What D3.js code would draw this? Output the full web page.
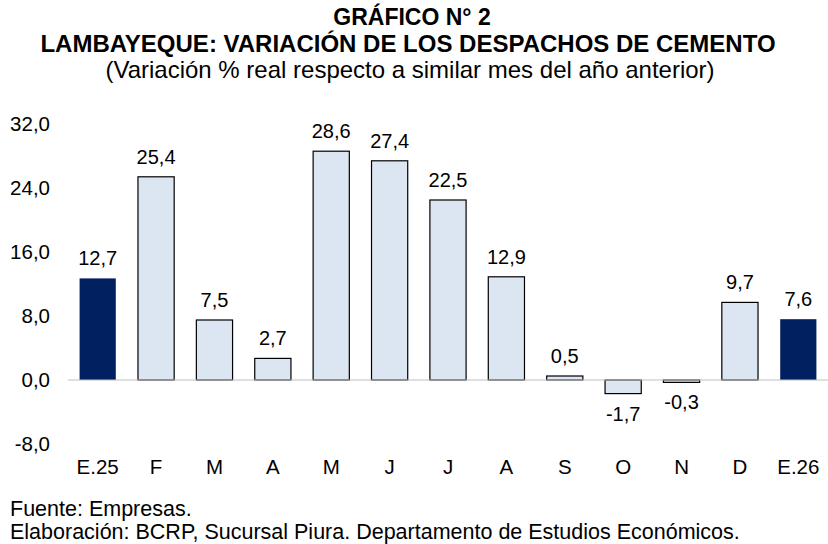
<!DOCTYPE html>
<html>
<head>
<meta charset="utf-8">
<script src="https://cdn.jsdelivr.net/npm/d3@7"></script>
<style>
  body { margin: 0; background: #fff; }
  svg { font-family: "Liberation Sans", Arial, sans-serif; }
</style>
</head>
<body>
<div id="chartEl"></div>
<script>
const categories = ['E.25', 'F', 'M', 'A', 'M', 'J', 'J', 'A', 'S', 'O', 'N', 'D', 'E.26'];
const values = [12.7, 25.4, 7.5, 2.7, 28.6, 27.4, 22.5, 12.9, 0.5, -1.7, -0.3, 9.7, 7.6];
const highlighted = [true, false, false, false, false, false, false, false, false, false, false, false, true];
const yTicks = [-8, 0, 8, 16, 24, 32];

const width = 828;
const height = 544;
const fmt = v => v.toFixed(1).replace('.', ',');

const svg = d3.select('#chartEl').append('svg')
  .attr('width', width)
  .attr('height', height);

// titles
svg.append('text')
  .attr('x', 412).attr('y', 25)
  .attr('text-anchor', 'middle')
  .style('font-size', '23px').style('font-weight', 'bold')
  .text('GRÁFICO N° 2');
svg.append('text')
  .attr('x', 408).attr('y', 52)
  .attr('text-anchor', 'middle')
  .style('font-size', '24px').style('font-weight', 'bold')
  .text('LAMBAYEQUE: VARIACIÓN DE LOS DESPACHOS DE CEMENTO');
svg.append('text')
  .attr('x', 410).attr('y', 78)
  .attr('text-anchor', 'middle')
  .style('font-size', '24px')
  .text('(Variación % real respecto a similar mes del año anterior)');

const x = d3.scaleBand()
  .domain(d3.range(categories.length))
  .range([68.5, 827.5])
  .paddingInner(0.38)
  .paddingOuter(0.19);

const y = d3.scaleLinear()
  .domain([-8, 32])
  .range([444, 124]);

// y tick labels
svg.append('g').selectAll('text')
  .data(yTicks)
  .enter().append('text')
  .attr('x', 50)
  .attr('y', d => y(d))
  .attr('dy', '0.35em')
  .attr('text-anchor', 'end')
  .style('font-size', '20.5px')
  .text(fmt);

// bars
svg.append('g').selectAll('rect')
  .data(values)
  .enter().append('rect')
  .attr('x', (d, i) => x(i))
  .attr('width', x.bandwidth())
  .attr('y', d => y(Math.max(0, d)))
  .attr('height', d => Math.abs(y(d) - y(0)))
  .attr('fill', (d, i) => highlighted[i] ? '#002060' : '#dce6f2')
  .attr('stroke', (d, i) => highlighted[i] ? 'none' : '#000')
  .attr('stroke-width', 1.2);

// zero line
svg.append('line')
  .attr('x1', 68).attr('x2', 828)
  .attr('y1', y(0)).attr('y2', y(0))
  .attr('stroke', '#bfbfbf')
  .attr('stroke-width', 1.2);

// value labels
svg.append('g').selectAll('text')
  .data(values)
  .enter().append('text')
  .attr('x', (d, i) => x(i) + x.bandwidth() / 2)
  .attr('y', d => d >= 0 ? y(d) - 20 : y(d) + 20)
  .attr('dy', '0.35em')
  .attr('text-anchor', 'middle')
  .style('font-size', '20px')
  .text(fmt);

// x labels
svg.append('g').selectAll('text')
  .data(categories)
  .enter().append('text')
  .attr('x', (d, i) => x(i) + x.bandwidth() / 2)
  .attr('y', 467)
  .attr('dy', '0.35em')
  .attr('text-anchor', 'middle')
  .style('font-size', '20.5px')
  .text(d => d);

// footer
svg.append('text')
  .attr('x', 10).attr('y', 516)
  .style('font-size', '21.5px')
  .text('Fuente: Empresas.');
svg.append('text')
  .attr('x', 10).attr('y', 539)
  .style('font-size', '21.5px')
  .text('Elaboración: BCRP, Sucursal Piura. Departamento de Estudios Económicos.');
</script>
</body>
</html>
